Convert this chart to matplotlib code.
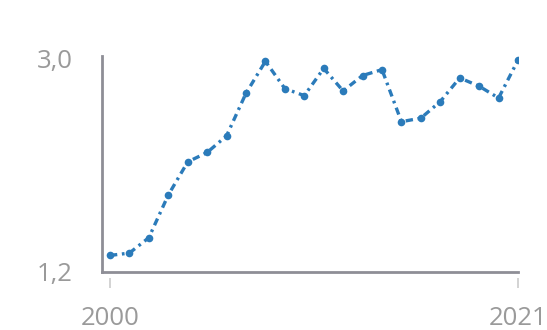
import matplotlib
matplotlib.use("Agg")
from matplotlib import pyplot as plt

plt.rcParams["font.family"] = ["Open Sans", "DejaVu Sans"]

# values
years = list(range(2000, 2022))
values = [1.34, 1.36, 1.49, 1.85, 2.13, 2.21, 2.35, 2.71, 2.98, 2.75, 2.69,
          2.92, 2.73, 2.86, 2.91, 2.47, 2.50, 2.64, 2.84, 2.77, 2.67, 2.99]
y_ticks = [1.2, 3.0]
y_labels = ["1,2", "3,0"]
x_ticks = [2000, 2021]
x_labels = ["2000", "2021"]

fig = plt.figure(figsize=(5.47, 3.30), dpi=100)
ax = fig.add_axes([102 / 547, 58 / 330, 416 / 547, 216 / 330])

blue = "#2b7bba"
ax.plot(years, values, color=blue, lw=2.4, linestyle=(0, (2.2, 1.4, 0.8, 1.4)),
        marker="o", markersize=5.5, markeredgewidth=0, zorder=3)

ax.set_xlim(1999.59, 2021)
ax.set_ylim(1.2, 3.025)

for side in ["top", "right"]:
    ax.spines[side].set_visible(False)
for side in ["left", "bottom"]:
    ax.spines[side].set_color("#8e8e96")
    ax.spines[side].set_linewidth(2.0)

ax.set_yticks(y_ticks)
ax.set_yticklabels(y_labels)
ax.tick_params(axis="y", length=0, pad=21, labelsize=18.5, labelcolor="#9a9a9a")

# x ticks sit a little below the axis line
ax.set_xticks([])
sec = ax.secondary_xaxis(-0.028)
sec.spines["bottom"].set_visible(False)
sec.set_xticks(x_ticks)
sec.set_xticklabels(x_labels)
sec.tick_params(axis="x", length=7, width=1.3, color="#d0d0d0", pad=13,
                labelsize=18.5, labelcolor="#9a9a9a")

fig.savefig("out.png", dpi=100)
